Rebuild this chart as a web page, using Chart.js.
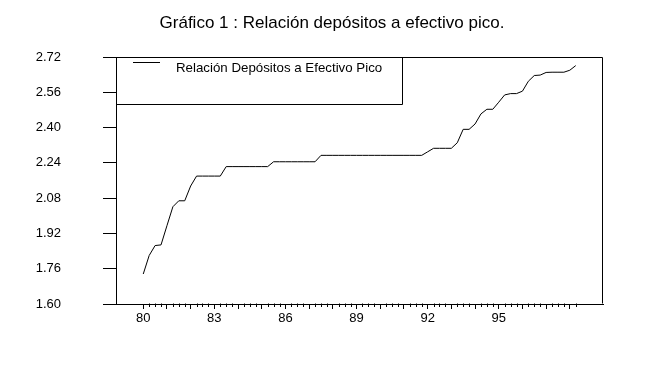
<!DOCTYPE html>
<html>
<head>
<meta charset="utf-8">
<script src="https://cdn.jsdelivr.net/npm/chart.js@4/dist/chart.umd.min.js"></script>
<style>
  html, body { margin: 0; padding: 0; background: #fff; }
  #wrap { width: 655px; height: 378px; position: relative; }
</style>
</head>
<body>
<div id="wrap"><canvas id="c" width="655" height="378"></canvas></div>
<script>
// ---- data (quarterly, 1980Q1 .. 1998Q2) ----
const startYear = 80;
const seriesLabel = 'Relación Depósitos a Efectivo Pico';
const titleText = 'Gráfico 1 : Relación depósitos a efectivo pico.';
const ratioValues = [
  1.736, 1.820, 1.865, 1.868, 1.955, 2.041, 2.068, 2.068,
  2.135, 2.180, 2.180, 2.180, 2.180, 2.180, 2.223, 2.223,
  2.223, 2.223, 2.223, 2.223, 2.223, 2.223, 2.245, 2.245,
  2.245, 2.245, 2.245, 2.245, 2.245, 2.245, 2.274, 2.274,
  2.274, 2.274, 2.274, 2.274, 2.274, 2.274, 2.274, 2.274,
  2.274, 2.274, 2.274, 2.274, 2.274, 2.274, 2.274, 2.274,
  2.290, 2.306, 2.306, 2.306, 2.306, 2.331, 2.392, 2.392,
  2.416, 2.462, 2.483, 2.483, 2.515, 2.548, 2.554, 2.554,
  2.565, 2.610, 2.636, 2.638, 2.650, 2.651, 2.651, 2.651,
  2.660, 2.681
];
const yTickValues = [1.60, 1.76, 1.92, 2.08, 2.24, 2.40, 2.56, 2.72];
const xLabelYears = [80, 83, 86, 89, 92, 95];

const points = ratioValues.map((v, i) => ({ x: i, y: v }));
const FONT = "'Liberation Sans', Arial, sans-serif";

const framePlugin = {
  id: 'frame',
  afterDraw(chart) {
    const ctx = chart.ctx;
    const a = chart.chartArea;
    const xs = chart.scales.x;
    ctx.save();
    ctx.strokeStyle = '#000';
    ctx.lineWidth = 1;
    const L = Math.round(a.left) + 0.5, T = Math.round(a.top) + 0.5;
    const R = Math.round(a.right) - 0.5, B = Math.round(a.bottom) - 0.5;
    ctx.beginPath();
    ctx.moveTo(L, T); ctx.lineTo(R, T); ctx.lineTo(R, B);
    ctx.stroke();
    // minor (quarter) ticks
    ctx.beginPath();
    for (let i = 0; i < ratioValues.length; i++) {
      if (i % 4 === 0) continue;
      const px = Math.round(xs.getPixelForValue(i)) + 0.5;
      ctx.moveTo(px, B); ctx.lineTo(px, B + 3.5);
    }
    ctx.stroke();
    // legend box
    const lx1 = L, lx2 = Math.round(a.left + 286) + 0.5, ly2 = Math.round(a.top + 47) + 0.5;
    ctx.beginPath();
    ctx.moveTo(lx2, T); ctx.lineTo(lx2, ly2); ctx.lineTo(lx1, ly2);
    ctx.stroke();
    const sy = Math.round(a.top + 5) + 0.5;
    ctx.beginPath();
    ctx.moveTo(a.left + 17, sy); ctx.lineTo(a.left + 44, sy);
    ctx.stroke();
    ctx.fillStyle = '#000';
    ctx.font = "13.3px " + FONT;
    ctx.textBaseline = 'alphabetic';
    ctx.textAlign = 'left';
    ctx.fillText(chart.data.datasets[0].label, a.left + 60, a.top + 14.5);
    ctx.restore();
  }
};

new Chart(document.getElementById('c'), {
  type: 'line',
  data: {
    datasets: [{
      label: seriesLabel,
      data: points,
      borderColor: '#000',
      borderWidth: 1,
      pointRadius: 0,
      tension: 0,
      fill: false
    }]
  },
  options: {
    responsive: false,
    animation: false,
    events: [],
    layout: { padding: { left: 9, right: 0, top: 0, bottom: 0 } },
    plugins: {
      legend: { display: false },
      tooltip: { enabled: false },
      title: {
        display: true,
        text: titleText,
        color: '#000',
        font: { family: FONT, size: 17, weight: 'normal' },
        padding: { top: 13, bottom: 23.6 }
      }
    },
    scales: {
      x: {
        type: 'linear',
        min: -4.6,
        max: 77.6,
        afterBuildTicks(scale) {
          scale.ticks = ratioValues.map((v, i) => ({ value: i }));
        },
        afterFit(scale) { scale.height = 74; },
        ticks: {
          autoSkip: false,
          maxRotation: 0,
          padding: 2,
          color: '#000',
          font: { family: FONT, size: 13 },
          callback(value) {
            const yr = startYear + value / 4;
            return (value % 4 === 0 && xLabelYears.includes(yr)) ? String(yr) : '';
          }
        },
        grid: {
          drawOnChartArea: false,
          drawTicks: true,
          tickLength: 5,
          tickColor: (ctx) => (ctx.tick && ctx.tick.value % 4 === 0) ? '#000' : 'rgba(0,0,0,0)'
        },
        border: { display: true, color: '#000', width: 1 }
      },
      y: {
        type: 'linear',
        position: 'left',
        min: 1.60,
        max: 2.72,
        afterBuildTicks(scale) {
          scale.ticks = yTickValues.map(v => ({ value: v }));
        },
        afterFit(scale) { scale.width = 107; },
        ticks: {
          autoSkip: false,
          padding: 42,
          color: '#000',
          font: { family: FONT, size: 13 },
          callback(value) { return Number(value).toFixed(2); }
        },
        grid: {
          drawOnChartArea: false,
          drawTicks: true,
          tickLength: 13,
          tickColor: '#000'
        },
        border: { display: true, color: '#000', width: 1 }
      },
      yRightSpace: {
        type: 'linear',
        position: 'right',
        min: 0,
        max: 1,
        afterFit(scale) { scale.width = 52; },
        ticks: { display: false },
        grid: { display: false, drawTicks: false },
        border: { display: false }
      }
    }
  },
  plugins: [framePlugin]
});
</script>
</body>
</html>
